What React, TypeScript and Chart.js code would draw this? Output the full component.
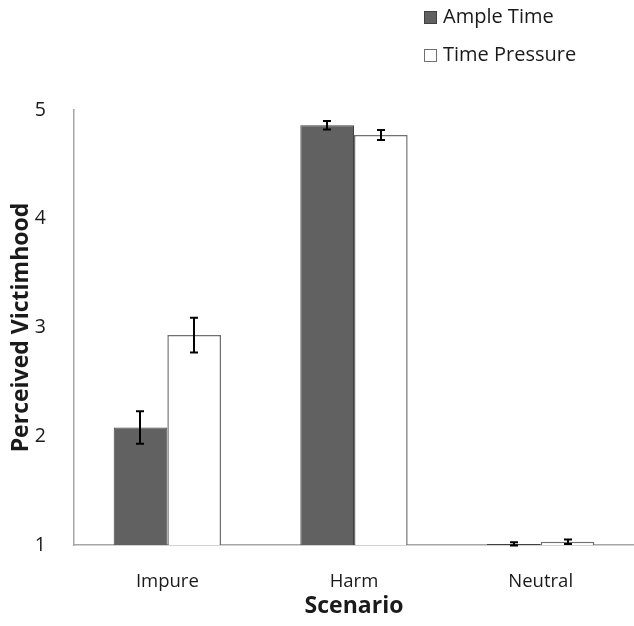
import React, { useEffect, useRef } from "react";
import { Chart, registerables } from "chart.js";

Chart.register(...registerables);

const categories = ["Impure", "Harm", "Neutral"];
const seriesNames = ["Ample Time", "Time Pressure"];
const ampleValues = [2.08, 4.86, 1.01];
const pressureValues = [2.93, 4.77, 1.03];
const ampleErrors = [0.15, 0.04, 0.015];
const pressureErrors = [0.16, 0.045, 0.02];
const yTicks = [1, 2, 3, 4, 5];

const FONT = "'Open Sans', 'Liberation Sans', sans-serif";

const errorBarPlugin = {
  id: "errorBars",
  afterDatasetsDraw(chart: any) {
    const ctx = chart.ctx;
    const yScale = chart.scales.y;
    const errs = [ampleErrors, pressureErrors];
    ctx.save();
    ctx.strokeStyle = "#000000";
    ctx.lineWidth = 2;
    chart.data.datasets.forEach((ds: any, di: number) => {
      const meta = chart.getDatasetMeta(di);
      meta.data.forEach((bar: any, i: number) => {
        const v = ds.data[i];
        const e = errs[di][i];
        const x = Math.round(bar.x);
        const yTop = yScale.getPixelForValue(v + e);
        const yBot = yScale.getPixelForValue(v - e);
        const cap = 4;
        ctx.beginPath();
        ctx.moveTo(x, yTop);
        ctx.lineTo(x, yBot);
        ctx.moveTo(x - cap, yTop);
        ctx.lineTo(x + cap, yTop);
        ctx.moveTo(x - cap, yBot);
        ctx.lineTo(x + cap, yBot);
        ctx.stroke();
      });
    });
    ctx.restore();
  },
};

const legendPlugin = {
  id: "customLegend",
  afterDraw(chart: any) {
    const ctx = chart.ctx;
    ctx.save();
    const x0 = 424;
    const ys = [17, 55];
    chart.data.datasets.forEach((ds: any, i: number) => {
      const y = ys[i];
      ctx.fillStyle = ds.backgroundColor;
      ctx.strokeStyle = ds.borderColor;
      ctx.lineWidth = 1;
      ctx.fillRect(x0 + 0.5, y - 6 + 0.5, 12, 12);
      ctx.strokeRect(x0 + 0.5, y - 6 + 0.5, 12, 12);
      ctx.fillStyle = "#1a1a1a";
      ctx.font = `20px ${FONT}`;
      ctx.textBaseline = "middle";
      ctx.textAlign = "left";
      ctx.fillText(seriesNames[i], x0 + 19, y);
    });
    ctx.restore();
  },
};

export default function App() {
  const canvasRef = useRef<HTMLCanvasElement | null>(null);

  useEffect(() => {
    if (!canvasRef.current) return;
    const chart = new Chart(canvasRef.current, {
      type: "bar",
      data: {
        labels: categories,
        datasets: [
          {
            label: seriesNames[0],
            data: ampleValues,
            backgroundColor: "#616161",
            borderColor: "#404040",
            borderWidth: 1,
            barPercentage: 1,
            categoryPercentage: 0.575,
          },
          {
            label: seriesNames[1],
            data: pressureValues,
            backgroundColor: "#ffffff",
            borderColor: "#707070",
            borderWidth: 1.5,
            barPercentage: 1,
            categoryPercentage: 0.575,
          },
        ],
      },
      options: {
        animation: false,
        responsive: false,
        layout: { padding: { top: 110, right: -3, left: 0, bottom: 0 } },
        plugins: {
          legend: { display: false },
          tooltip: { enabled: false },
        },
        scales: {
          x: {
            grid: { display: false },
            border: { display: true, color: "#a6a6a6", width: 1.5 },
            ticks: {
              color: "#1a1a1a",
              font: { family: FONT, size: 18.5 },
              padding: 18,
            },
            title: {
              display: true,
              text: "Scenario",
              color: "#1a1a1a",
              font: { family: FONT, size: 23, weight: "bold" },
              padding: 6,
            },
            afterFit(scale: any) {
              scale.height = 81;
            },
          },
          y: {
            min: 1,
            max: 5,
            grid: { display: false },
            border: { display: true, color: "#a6a6a6", width: 1.5 },
            afterBuildTicks(scale: any) {
              scale.ticks = yTicks.map((v) => ({ value: v }));
            },
            ticks: {
              color: "#1a1a1a",
              font: { family: FONT, size: 19.5 },
              padding: 20,
            },
            title: {
              display: true,
              text: "Perceived Victimhood",
              color: "#1a1a1a",
              font: { family: FONT, size: 23, weight: "bold" },
              padding: 8,
            },
            afterFit(scale: any) {
              scale.width = 74;
            },
          },
        },
      },
      plugins: [errorBarPlugin, legendPlugin],
    });
    return () => chart.destroy();
  }, []);

  return (
    <div style={{ position: "absolute", left: 0, top: 0, width: 634, height: 626, background: "#ffffff" }}>
      <canvas ref={canvasRef} width={634} height={626} style={{ width: 634, height: 626, display: "block" }} />
    </div>
  );
}
